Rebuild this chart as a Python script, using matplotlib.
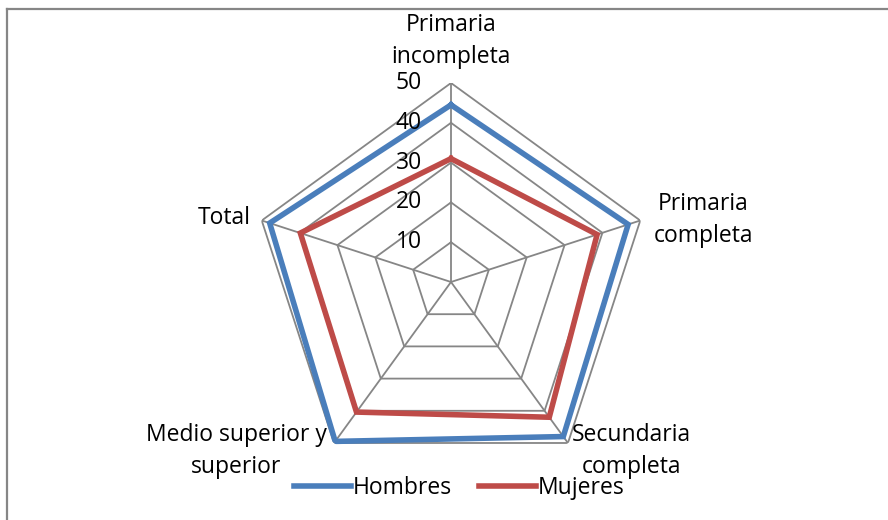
import numpy as np
import matplotlib.pyplot as plt
from matplotlib.lines import Line2D
from matplotlib.transforms import offset_copy

plt.rcParams['font.family'] = ['Open Sans', 'DejaVu Sans']

categories = ['Primaria\nincompleta', 'Primaria\ncompleta', 'Secundaria\ncompleta',
              'Medio superior y\nsuperior', 'Total']
hombres = [44.5, 46.8, 48.0, 49.5, 47.9]
mujeres = [31.0, 38.6, 42.0, 40.4, 39.8]
rings = [10, 20, 30, 40, 50]

W, H = 888, 520
gray = '#868686'
blue = '#4A7EBB'
red = '#BE4B48'
fs = 16.5

fig = plt.figure(figsize=(W / 100, H / 100), dpi=100)

# polar axes placed so centre is at (451, 282) px, radius 199 px
cx, cy, R = 451, 282, 199
ax = fig.add_axes([(cx - R) / W, (H - cy - R) / H, 2 * R / W, 2 * R / H], projection='polar')
ax.set_theta_zero_location('N')
ax.set_theta_direction(-1)
ax.set_ylim(0, 50)
ax.grid(False)
ax.set_xticks([])
ax.set_yticks([])
ax.spines['polar'].set_visible(False)
ax.patch.set_alpha(0)

n = len(categories)
theta = np.linspace(0, 2 * np.pi, n, endpoint=False)
theta_c = np.append(theta, theta[0])

# pentagon grid and spokes
for r in rings:
    ax.plot(theta_c, [r] * (n + 1), color=gray, lw=1.3, zorder=1)
for t in theta:
    ax.plot([t, t], [0, rings[-1]], color=gray, lw=1.3, zorder=1)

ax.plot(theta_c, hombres + hombres[:1], color=blue, lw=4.0, solid_joinstyle='miter', zorder=3)
ax.plot(theta_c, mujeres + mujeres[:1], color=red, lw=4.0, solid_joinstyle='miter', zorder=2)

# radial tick labels
tr = offset_copy(ax.transData, fig=fig, x=-29, y=0, units='dots')
for r in rings:
    ax.text(0, r, str(r), transform=tr, ha='right', va='center', fontsize=fs, color='black')

# category labels (pixel positions)
label_pos = [(451, 41), (703, 220), (631, 451), (236, 451), (224, 218)]
for lab, (px, py) in zip(categories, label_pos):
    fig.text(px / W, 1 - py / H, lab, ha='center', va='center', fontsize=fs,
             linespacing=1.4, color='black')

# legend
handles = [Line2D([], [], color=blue, lw=4.0), Line2D([], [], color=red, lw=4.0)]
fig.legend(handles, ['Hombres', 'Mujeres'], loc='center', bbox_to_anchor=(459 / W, 1 - 488 / H),
           ncol=2, frameon=False, fontsize=fs, handlelength=2.5, handletextpad=0.05,
           columnspacing=1.2)

# chart frame (cropped)
fig.add_artist(Line2D([7 / W, 1], [1 - 9 / H, 1 - 9 / H], color=gray, lw=1.6))
fig.add_artist(Line2D([7 / W, 7 / W], [0, 1 - 9 / H], color=gray, lw=1.6))

# cropped title, only descender tips remain visible
fig.text(0.68, 1 + 5 / H, 'Nivel educativo por sexo y grupo',
         ha='center', va='baseline', fontsize=14, fontweight='bold')

fig.savefig('out.png', dpi=100)
